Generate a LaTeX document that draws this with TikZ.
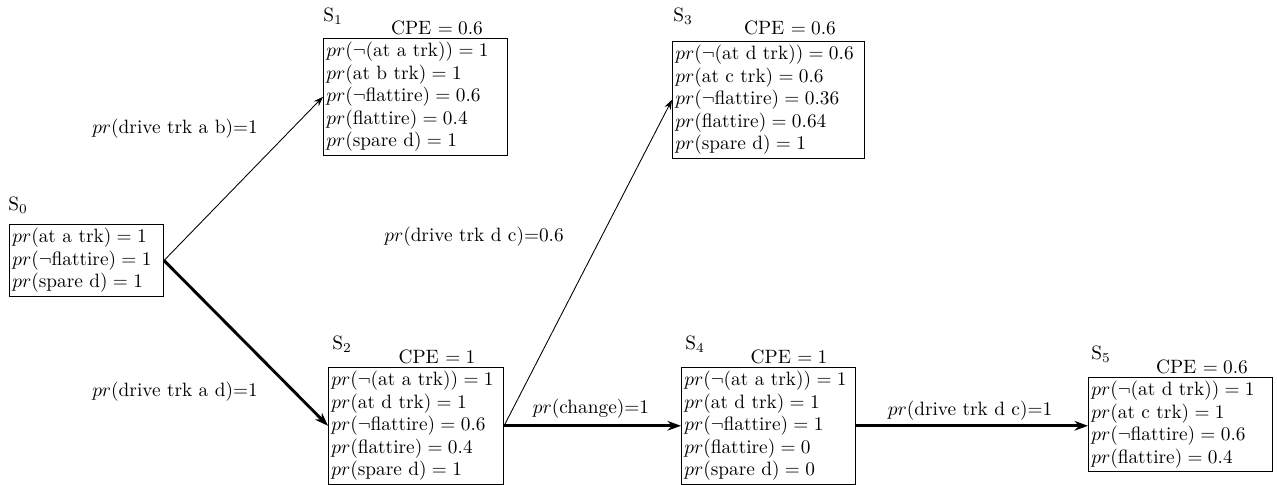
\documentclass[tikz,border=0pt]{standalone}
\usetikzlibrary{arrows.meta}
\begin{document}
\begin{tikzpicture}[x=0.518pt,y=-0.518pt,
  st/.style={draw, line width=0.5pt, inner xsep=1.5pt, inner ysep=2pt, align=left, anchor=north west, font=\fontsize{10}{11.6}\selectfont},
  lab/.style={inner sep=0pt},
  thinarr/.style={line width=0.45pt, -{Stealth[length=5pt,width=3.6pt]}},
  thickarr/.style={line width=1.5pt, -{Stealth[length=7pt,width=5pt]}}]
\useasboundingbox (0,0) rectangle (1277,484);
% states
\node[st, text width=76.8pt, minimum height=37.3pt] (s0) at (9,224)
 {\mbox{$pr(\mbox{at a trk}) = 1$}\\
  \mbox{$pr(\neg\mbox{flattire}) = 1$}\\
  \mbox{$pr(\mbox{spare d}) = 1$}};
\node[st, text width=92.3pt, minimum height=59.6pt] (s1) at (323,38)
 {\mbox{$pr(\neg(\mbox{at a trk})) = 1$}\\
  \mbox{$pr(\mbox{at b trk}) = 1$}\\
  \mbox{$pr(\neg\mbox{flattire}) = 0.6$}\\
  \mbox{$pr(\mbox{flattire}) = 0.4$}\\
  \mbox{$pr(\mbox{spare d}) = 1$}};
\node[st, text width=96.5pt, minimum height=58pt] (s3) at (672,41)
 {\mbox{$pr(\neg(\mbox{at d trk})) = 0.6$}\\
  \mbox{$pr(\mbox{at c trk}) = 0.6$}\\
  \mbox{$pr(\neg\mbox{flattire}) = 0.36$}\\
  \mbox{$pr(\mbox{flattire}) = 0.64$}\\
  \mbox{$pr(\mbox{spare d}) = 1$}};
\node[st, text width=87.7pt, minimum height=58.5pt] (s2) at (328,367)
 {\mbox{$pr(\neg(\mbox{at a trk})) = 1$}\\
  \mbox{$pr(\mbox{at d trk}) = 1$}\\
  \mbox{$pr(\neg\mbox{flattire}) = 0.6$}\\
  \mbox{$pr(\mbox{flattire}) = 0.4$}\\
  \mbox{$pr(\mbox{spare d}) = 1$}};
\node[st, text width=87.1pt, minimum height=58.5pt] (s4) at (681,367)
 {\mbox{$pr(\neg(\mbox{at a trk})) = 1$}\\
  \mbox{$pr(\mbox{at d trk}) = 1$}\\
  \mbox{$pr(\neg\mbox{flattire}) = 1$}\\
  \mbox{$pr(\mbox{flattire}) = 0$}\\
  \mbox{$pr(\mbox{spare d}) = 0$}};
\node[st, text width=92.3pt, minimum height=48.2pt] (s5) at (1088,377)
 {\mbox{$pr(\neg(\mbox{at d trk})) = 1$}\\
  \mbox{$pr(\mbox{at c trk}) = 1$}\\
  \mbox{$pr(\neg\mbox{flattire}) = 0.6$}\\
  \mbox{$pr(\mbox{flattire}) = 0.4$}};
% state names
\node[lab] (l0) at (18,205) {S$_0$};
\node[lab] (l1) at (333,16) {S$_1$};
\node[lab] (l3) at (683,16) {S$_3$};
\node[lab] (l2) at (342,344) {S$_2$};
\node[lab] (l4) at (695,344) {S$_4$};
\node[lab] (l5) at (1101,354) {S$_5$};
% CPE labels
\node[lab] (c1) at (437,28) {CPE $=0.6$};
\node[lab] (c3) at (790,28) {CPE $=0.6$};
\node[lab] (c2) at (437,357) {CPE $=1$};
\node[lab] (c4) at (789,357) {CPE $=1$};
\node[lab] (c5) at (1202,367) {CPE $=0.6$};
% edges
\draw[thinarr] (s0.east) -- (s1.west);
\draw[thickarr] (s0.east) -- (s2.west);
\draw[thinarr] (s2.east) -- (s3.west);
\draw[thickarr] (s2.east) -- (s4.west);
\draw[thickarr] (s4.east) -- (s4.east -| s5.west);
% edge labels
\node[lab] (e1) at (175,129) {$pr$(drive trk a b)=1};
\node[lab] (e2) at (175,392) {$pr$(drive trk a d)=1};
\node[lab] (e3) at (474,237) {$pr$(drive trk d c)=0.6};
\node[lab] (e4) at (591,409) {$pr$(change)=1};
\node[lab] (e5) at (970,411) {$pr$(drive trk d c)=1};
\end{tikzpicture}
\end{document}
